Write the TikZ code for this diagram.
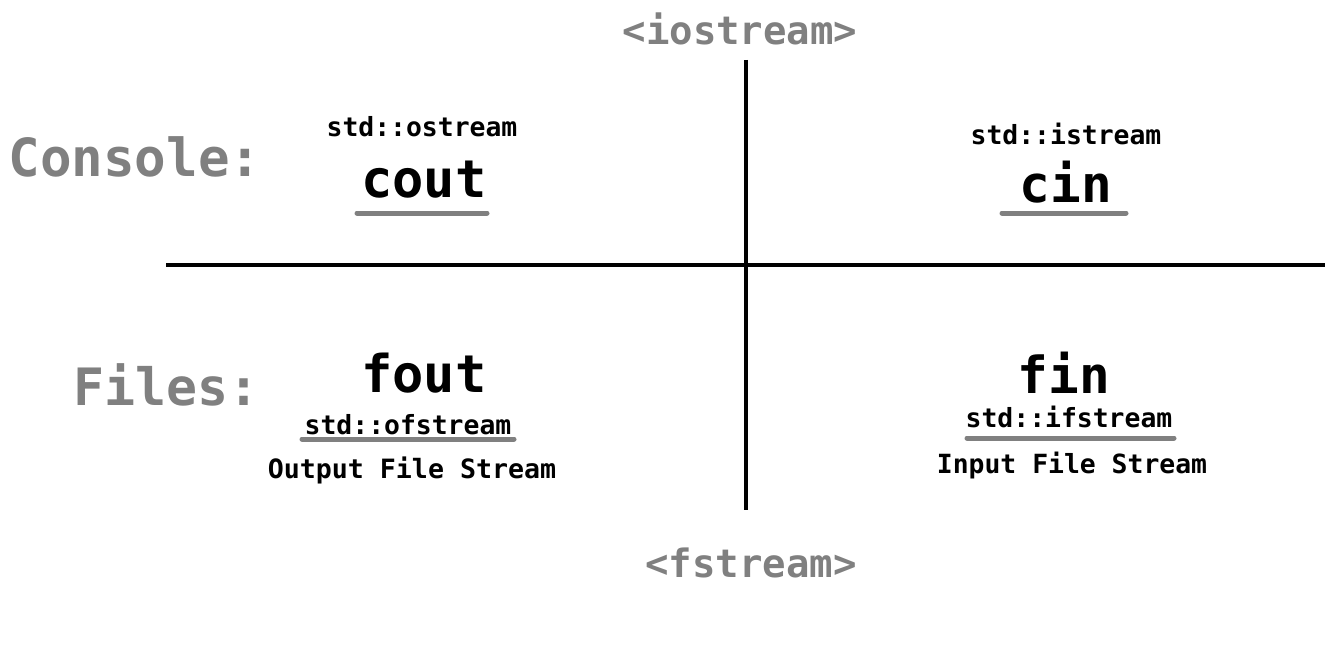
\documentclass[tikz,border=0pt]{standalone}
\usepackage{fontspec}
\setmonofont{DejaVu Sans Mono}
\definecolor{lblgray}{HTML}{808080}
\begin{document}
\begin{tikzpicture}[x=1pt,y=-1pt,
  txt/.style={inner sep=0pt, anchor=center, font=\ttfamily\bfseries\fontsize{#1}{#1}\selectfont},
  hdr/.style={txt=#1, text=lblgray},
  axis/.style={line width=3.5pt, black},
  uline/.style={line width=5pt, lblgray, line cap=round}]
\useasboundingbox (0,0) rectangle (1334,650);
% headers
\node[hdr=39] (ios) at (740,29) {<iostream>};
\node[hdr=39] (fst) at (751,563) {<fstream>};
\node[hdr=52.5] (con) at (135,157) {Console:};
\node[hdr=51.5] (fil) at (167,385) {Files:};
% axes
\coordinate (vt) at (746,60);
\coordinate (vb) at (746,510);
\coordinate (hl) at (166,265);
\coordinate (hr) at (1325,265);
\draw[axis] (vt) -- (vb);
\draw[axis] (hl) -- (hr);
% cout
\node[txt=26.4] (ost) at (422,127) {std::ostream};
\node[txt=52] (cout) at (424,180) {cout};
\coordinate (cu1) at (357,213); \coordinate (cu2) at (487,213);
\draw[uline] (cu1) -- (cu2);
% cin
\node[txt=26.4] (ist) at (1066,134) {std::istream};
\node[txt=51] (cin) at (1066,182) {cin};
\coordinate (ci1) at (1002,213); \coordinate (ci2) at (1126,213);
\draw[uline] (ci1) -- (ci2);
% fout
\node[txt=52] (fout) at (424,373) {fout};
\node[txt=26.4] (ofs) at (408,425) {std::ofstream};
\coordinate (fo1) at (302,439); \coordinate (fo2) at (514,439);
\draw[uline] (fo1) -- (fo2);
\node[txt=26.6] (ofsd) at (412,470) {Output File Stream};
% fin
\node[txt=51] (fin) at (1064,373) {fin};
\node[txt=26.4] (ifs) at (1069,417) {std::ifstream};
\coordinate (fi1) at (967,438); \coordinate (fi2) at (1174,438);
\draw[uline] (fi1) -- (fi2);
\node[txt=26.4] (ifsd) at (1072,466) {Input File Stream};
\end{tikzpicture}
\end{document}
